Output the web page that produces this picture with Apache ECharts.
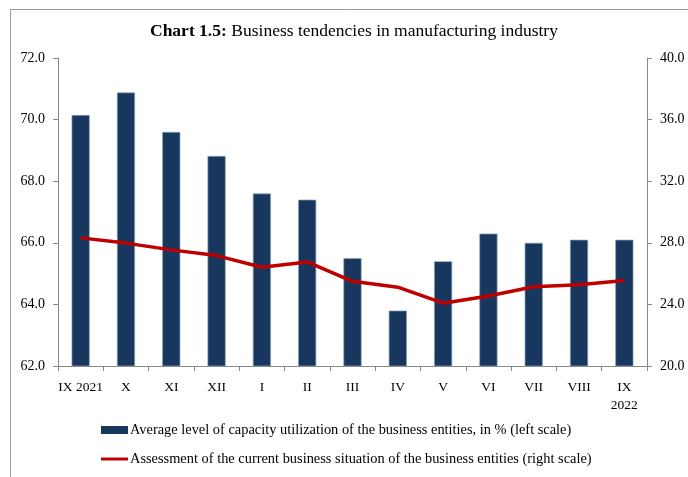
<!DOCTYPE html>
<html>
<head>
<meta charset="utf-8">
<script src="https://cdn.jsdelivr.net/npm/echarts@6/dist/echarts.min.js"></script>
<style>html,body{margin:0;padding:0;background:#fff;}#c{width:688px;height:477px;}</style>
</head>
<body>
<div id="c"></div>
<script>
const categories = ['IX 2021','X','XI','XII','I','II','III','IV','V','VI','VII','VIII','IX\n2022'];
const capacityUtilization = [70.15,70.88,69.6,68.82,67.6,67.4,65.5,63.8,65.4,66.3,66.0,66.1,66.1];
const businessSituation = [28.32,27.98,27.54,27.17,26.41,26.76,25.5,25.12,24.08,24.55,25.15,25.27,25.55];
const leftTicks = {min:62, max:72, interval:2};
const rightTicks = {min:20, max:40, interval:4};
const seriesNames = [
  'Average level of capacity utilization of the business entities, in % (left scale)',
  'Assessment of the current business situation of the business entities (right scale)'
];

const FONT = '"Liberation Serif", "DejaVu Serif", serif';
const chart = echarts.init(document.getElementById('c'), null, {renderer:'canvas'});
chart.setOption({
  animation:false,
  backgroundColor:'#fff',
  textStyle:{fontFamily:FONT},
  graphic:[{type:'rect', shape:{x:10.5,y:9.5,width:700,height:500}, style:{fill:'none', stroke:'#9a9a9a', lineWidth:1}, silent:true}],
  title:{
    text:'{b|Chart 1.5:} {n|Business tendencies in manufacturing industry}',
    left:145, top:17,
    textStyle:{fontWeight:'normal', rich:{
      b:{fontFamily:FONT, fontWeight:'bold', fontSize:17.5, color:'#000'},
      n:{fontFamily:FONT, fontWeight:'normal', fontSize:17.5, color:'#000'}
    }}
  },
  legend:{
    orient:'vertical', left:101, top:423, padding:0, itemGap:15, itemWidth:27, itemHeight:8,
    textStyle:{fontFamily:FONT, fontSize:14.4, color:'#000', padding:[0,0,0,-3]},
    data:[
      {name:seriesNames[0], icon:'rect', itemStyle:{color:'#17375E', borderWidth:0}},
      {name:seriesNames[1], icon:'path://M0,0 L27,0 L27,3 L0,3 Z', itemStyle:{color:'#C00000', borderWidth:0}}
    ]
  },
  grid:{left:58, right:41, top:58, bottom:111, containLabel:false},
  xAxis:{
    type:'category', data:categories, boundaryGap:true,
    axisLine:{lineStyle:{color:'#888'}},
    axisTick:{show:true, length:5, alignWithLabel:false, lineStyle:{color:'#888'}},
    axisLabel:{interval:0, color:'#000', fontFamily:FONT, fontSize:13.5, margin:12, lineHeight:18}
  },
  yAxis:[
    {type:'value', min:leftTicks.min, max:leftTicks.max, interval:leftTicks.interval, position:'left',
     axisLine:{show:true, lineStyle:{color:'#888'}}, axisTick:{show:true, length:5, lineStyle:{color:'#888'}},
     splitLine:{show:false},
     axisLabel:{color:'#000', fontFamily:FONT, fontSize:14, margin:13, formatter:v=>v.toFixed(1)}},
    {type:'value', min:rightTicks.min, max:rightTicks.max, interval:rightTicks.interval, position:'right',
     axisLine:{show:true, lineStyle:{color:'#888'}}, axisTick:{show:true, length:5, lineStyle:{color:'#888'}},
     splitLine:{show:false},
     axisLabel:{color:'#000', fontFamily:FONT, fontSize:14, margin:13, formatter:v=>v.toFixed(1)}}
  ],
  series:[
    {name:seriesNames[0], type:'bar', yAxisIndex:0, data:capacityUtilization, barWidth:'40%',
     itemStyle:{color:'#17375E', borderColor:'#8fa0b5', borderWidth:0.7}},
    {name:seriesNames[1], type:'line', yAxisIndex:1, data:businessSituation, symbol:'none', showSymbol:false,
     lineStyle:{color:'#C00000', width:3.5}, itemStyle:{color:'#C00000'}, z:5}
  ]
});
</script>
</body>
</html>
